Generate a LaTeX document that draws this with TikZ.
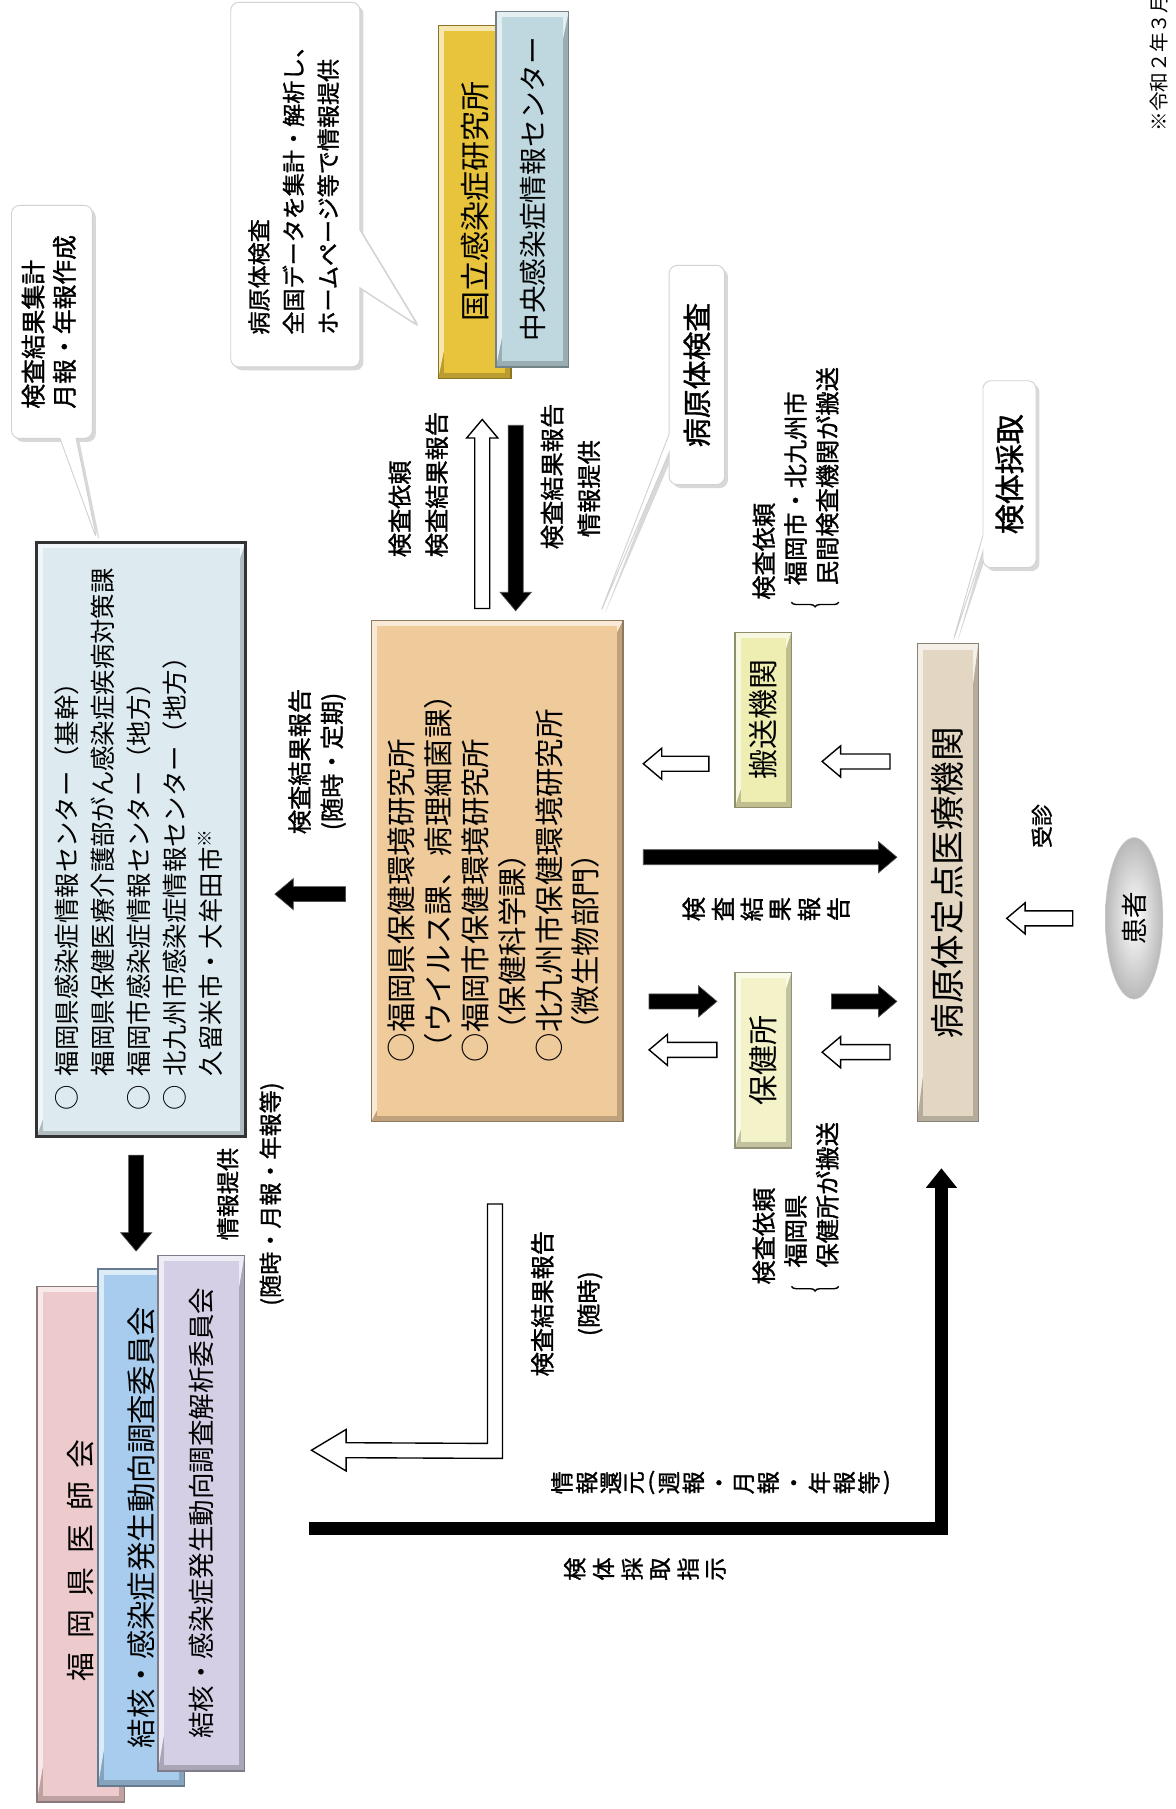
\documentclass[tikz,border=0pt]{standalone}
\usepackage{fontspec}
\setmainfont{Noto Sans CJK JP}
\newfontfamily\jpbold{Noto Sans CJK JP}[FakeBold=1.2]
\usepackage{graphicx}
\usetikzlibrary{calc,arrows.meta,shapes.geometric,shapes.callouts,shadows,decorations.pathreplacing}

\definecolor{niidgold}{HTML}{E8C33C}
\definecolor{nccblue}{HTML}{BFD8DF}
\definecolor{infoblue}{HTML}{DDEBF0}
\definecolor{iphorange}{HTML}{EFCB9C}
\definecolor{hansoyel}{HTML}{EEEDB2}
\definecolor{hokenyel}{HTML}{F3F2C8}
\definecolor{teitenbg}{HTML}{E3D7C3}
\definecolor{ishipink}{HTML}{EDCACB}
\definecolor{chosablue}{HTML}{A8CCEE}
\definecolor{kaisekipur}{HTML}{D4CFE5}

\newcommand{\fs}[2]{\fontsize{#1}{#2}\selectfont}
\newcommand{\rb}[1]{\rotatebox{90}{#1}}
\newcommand{\vt}[1]{\rb{\begin{tabular}{@{}l@{}}#1\end{tabular}}}
\newcommand{\vtc}[1]{\rb{\begin{tabular}{@{}c@{}}#1\end{tabular}}}
\newcommand{\spaced}[2]{\foreach \chr [count=\cnt] in {#2}{\ifnum\cnt>1\hspace{#1}\fi\rb{\chr}}}
\newcommand{\rbs}[1]{\rb{#1}\hspace{3pt}}
\newcommand{\arrsw}{6.5pt}
\newcommand{\arrhw}{13.5pt}
\newcommand{\arrhl}{16pt}
% block arrow from #2 to #3
\newcommand{\fatarrow}[3]{%
  \path[#1] let \p1=#2, \p2=#3,
    \n1={atan2(\y2-(\y1),\x2-(\x1))}, \n2={veclen(\x2-(\x1),\y2-(\y1))} in
    [shift={(\p1)}, rotate=\n1]
    (0pt,-\arrsw) -- (\n2-\arrhl,-\arrsw) -- (\n2-\arrhl,-\arrhw) -- (\n2,0pt)
    -- (\n2-\arrhl,\arrhw) -- (\n2-\arrhl,\arrsw) -- (0pt,\arrsw) -- cycle;}

\begin{document}
\begin{tikzpicture}[x=1pt, y=-1pt,
    box/.style={draw, line width=1.2pt, inner sep=0pt},
    bevel/.style={fill=#1, draw=#1!60!black, path picture={
      \fill[#1!40!white] (path picture bounding box.south west) -- (path picture bounding box.north west)
        -- (path picture bounding box.north east) -- cycle;
      \fill[#1!80!black] (path picture bounding box.south west) -- (path picture bounding box.south east)
        -- (path picture bounding box.north east) -- cycle;
      \fill[#1] ([shift={(5pt,5pt)}]path picture bounding box.south west)
        rectangle ([shift={(-5pt,-5pt)}]path picture bounding box.north east);}},
    callbox/.style={rectangle callout, rounded corners=7pt, fill=white, draw=gray!35, line width=.8pt, inner sep=0pt,
      drop shadow={opacity=.3, shadow xshift=3pt, shadow yshift=-3pt}},
    blk/.style={fill=black, draw=gray!60!black, line width=.6pt},
    hol/.style={fill=white, draw=black, line width=1.2pt}]
\useasboundingbox (0,0) rectangle (1019,1568);
\fill[white] (0,0) rectangle (1019,1568);

% callouts
\node[callbox, minimum width=70pt, minimum height=202pt, callout pointer width=14pt,
  callout absolute pointer={(84,468)}, font={\jpbold\fs{21.5}{27}}] (cTally) at (45,279) {\vt{検査結果集計\\月報・年報作成}};
\node[callbox, minimum width=112pt, minimum height=316pt, callout pointer width=50pt,
  callout absolute pointer={(362,282)}, font={\jpbold\fs{20}{30}}] (cNiid) at (256,160)
  {\vt{病原体検査\\全国データを集計・解析し、\\ホームページ等で情報提供}};
\node[callbox, minimum width=48pt, minimum height=190pt, callout pointer width=16pt,
  callout absolute pointer={(520,532)}, font={\jpbold\fs{25}{30}}] (cTest) at (604,325) {\rb{病原体検査}};
\node[callbox, minimum width=46pt, minimum height=162pt, callout pointer width=14pt,
  callout absolute pointer={(826,556)}, font={\jpbold\fs{26}{30}}] (cSample) at (875,411) {\rb{検体採取}};

% national level
\node[box, bevel=niidgold, minimum width=63pt, minimum height=306pt, font={\fs{26}{30}}]
  (niid) at (411.5,175) {\rb{国立感染症研究所}};
\node[box, bevel=nccblue, minimum width=63pt, minimum height=308pt, font={\fs{24}{30}}]
  (ncc) at (461.5,164) {\rb{中央感染症情報センター}};

% prefecture level
\node[box, bevel=infoblue, draw=black!80, line width=2.5pt, minimum width=181pt, minimum height=515pt, font={\fs{22}{31}}]
  (infoc) at (122.5,727.5) {\vt{○\hspace{.35em}福岡県感染症情報センター（基幹）\\
  \phantom{○}\hspace{.35em}福岡県保健医療介護部がん感染症疾病対策課\\
  ○\hspace{.35em}福岡市感染症情報センター（地方）\\
  ○\hspace{.35em}北九州市感染症情報センター（地方）\\
  \phantom{○}\hspace{.35em}久留米市・大牟田市\textsuperscript{※}}};
\node[box, bevel=iphorange, minimum width=218pt, minimum height=434pt, font={\fs{25.5}{32}}]
  (iph) at (431,755) {\vt{○福岡県保健環境研究所\\（ウイルス課、病理細菌課）\\○福岡市保健環境研究所\\
  \hspace{.6em}（保健科学課）\\○北九州市保健環境研究所\\\hspace{.6em}（微生物部門）}};
\node[box, bevel=hansoyel, minimum width=49pt, minimum height=152pt, font={\fs{26}{30}}]
  (hanso) at (661.5,624) {\rb{搬送機関}};
\node[box, bevel=hokenyel, minimum width=49pt, minimum height=152pt, font={\fs{26}{30}}]
  (hokenjo) at (661.5,919) {\rb{保健所}};
\node[box, bevel=teitenbg, minimum width=53pt, minimum height=414pt, font={\fs{30}{34}}]
  (teiten) at (821.5,765) {\rb{病原体定点医療機関}};
\node[ellipse, minimum width=50pt, minimum height=140pt, inner color=white, outer color=gray!55, draw=gray!35,
  inner sep=0pt, font={\fs{23}{26}}] (kanja) at (983,796) {\rb{患者}};

% committees
\node[box, bevel=ishipink, minimum width=76pt, minimum height=447pt, font={\fs{25}{30}}]
  (ishikai) at (70,1338.5) {\rb{福\hspace{12pt}岡\hspace{12pt}県\hspace{12pt}医\hspace{12pt}師\hspace{12pt}会\kern28pt}};
\node[box, bevel=chosablue, minimum width=75pt, minimum height=448pt, font={\fs{25.5}{30}}]
  (chosa) at (122.5,1324) {\rb{結核・感染症発生動向調査委員会}};
\node[box, bevel=kaisekipur, minimum width=75pt, minimum height=447pt, font={\fs{23}{30}}]
  (kaiseki) at (174.5,1311.5) {\rb{結核・感染症発生動向調査解析委員会}};

% labels
\node[font={\jpbold\fs{21}{32}}] (lReq) at (364,420) {\vt{検査依頼\\検査結果報告}};
\node[font={\jpbold\fs{21}{32}}] (lRep) at (496,413) {\vt{検査結果報告\\\hspace{.5em}情報提供}};
\node[font={\jpbold\fs{21}{28}}] (lLeft) at (276,660) {\vtc{検査結果報告\\(随時・定期)}};
\node[font={\jpbold\fs{20}{37}}] (lInfo) at (216,1035) {\vtc{情報提供\\(随時・月報・年報等)}};
\node[font={\jpbold\fs{21}{40}}] (lRes) at (490,1130) {\vtc{検査結果報告\\(随時)}};
\node[font={\jpbold\fs{21}{24}}] (lMid) at (664,788) {\spaced{6pt}{検,査,結,果,報,告}};
\node[font={\jpbold\fs{20}{24}}] (lRet) at (625,1285)
  {\rbs{情}\rbs{報}\rbs{還}\rbs{元}\raisebox{.2em}{(}\hspace{3pt}\rbs{週}\rbs{報}\raisebox{.12em}{・}\hspace{3pt}\rbs{月}\rbs{報}\raisebox{.12em}{・}\hspace{3pt}\rbs{年}\rbs{報}\rbs{等}\raisebox{.2em}{)}};
\node[font={\jpbold\fs{20}{24}}] (lInstr) at (559,1360) {\spaced{6.5pt}{検,体,採,取,指,示}};
\node[font={\jpbold\fs{19}{22}}] (lJushin) at (903,716) {\rb{受診}};
\node[font={\jpbold\fs{21}{27.5}}] (lReqA) at (692,419) {\vt{検査依頼\\\hspace{.6em}福岡市・北九州市\\\hspace{.6em}民間検査機関が搬送}};
\node[font={\jpbold\fs{21}{27.5}}] (lReqB) at (692,1043) {\vt{検査依頼\\\hspace{.7em}福岡県\\\hspace{.7em}保健所が搬送}};
\draw[decorate, decoration={brace, amplitude=4pt}, line width=1.2pt] (727,522) -- (686,522);
\draw[decorate, decoration={brace, amplitude=4pt}, line width=1.2pt] (727,1115) -- (686,1115);
\node[font={\fs{17}{20}}, anchor=south, inner sep=0pt] (note) at (1005,114) {\rb{※令和２年３月}};

% block arrows
\fatarrow{hol}{($(iph.north -| 418,0)+(0,-10)$)}{($(niid.south -| 418,0)+(0,35)$)}
\fatarrow{blk}{($(ncc.south -| 447,0)+(0,50)$)}{($(iph.north -| 447,0)+(0,-8)$)}
\fatarrow{blk}{($(iph.west |- 0,775)+(-22,0)$)}{($(infoc.east |- 0,775)+(24,0)$)}
\fatarrow{blk}{($(infoc.south -| 118,0)+(0,15)$)}{($(chosa.north -| 118,0)+(0,-15)$)}
\fatarrow{hol}{($(hanso.west |- 0,662)+(-22,0)$)}{($(iph.east |- 0,662)+(17,0)$)}
\fatarrow{hol}{($(teiten.west |- 0,660)+(-23,0)$)}{($(hanso.east |- 0,660)+(26,0)$)}
\fatarrow{blk}{($(iph.east |- 0,743)+(17,0)$)}{($(teiten.west |- 0,743)+(-17,0)$)}
\fatarrow{blk}{($(iph.east |- 0,868)+(22,0)$)}{($(hokenjo.west |- 0,868)+(-15,0)$)}
\fatarrow{hol}{($(hokenjo.west |- 0,910)+(-15,0)$)}{($(iph.east |- 0,910)+(22,0)$)}
\fatarrow{blk}{($(hokenjo.east |- 0,868)+(34,0)$)}{($(teiten.west |- 0,868)+(-17,0)$)}
\fatarrow{hol}{($(teiten.west |- 0,912)+(-23,0)$)}{($(hokenjo.east |- 0,912)+(26,0)$)}
\fatarrow{hol}{($(kanja.west)+(-28,0)$)}{($(teiten.east |- kanja.west)+(24,0)$)}

% result return (hollow L) and sampling instruction (black L)
\coordinate (rtop) at ($(iph.south)+(-2,71)$);
\coordinate (rcorner) at ($(rtop)+(0,214)$);
\coordinate (rtip) at (270,1257);
\draw[hol] ($(rtop)+(-6.5,0)$) -- ($(rtop)+(6.5,0)$) -- ($(rcorner)+(6.5,6.5)$) -- ($(rtip)+(30,6.5)$)
  -- ($(rtip)+(30,18)$) -- (rtip) -- ($(rtip)+(30,-18)$) -- ($(rtip)+(30,-6.5)$) -- ($(rcorner)+(-6.5,-6.5)$) -- cycle;
\coordinate (instr) at (268,1325);
\draw[line width=11pt, line join=miter, -{Triangle[width=26pt,length=17pt]}] (instr) -| ($(teiten.south)+(-5.5,40)$);
\end{tikzpicture}
\end{document}
